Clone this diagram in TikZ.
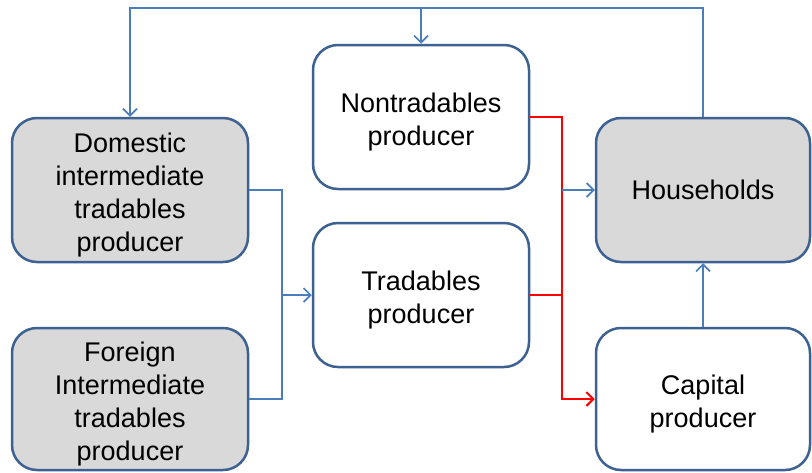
\documentclass[tikz,border=0pt]{standalone}
\usepackage{fontspec}
\setmainfont{Liberation Sans}
\usetikzlibrary{arrows.meta}
\definecolor{boxblue}{HTML}{3D6191}
\definecolor{lineblue}{HTML}{4A7EBB}
\definecolor{boxgray}{HTML}{D9D9D9}
% lines of a box, set a little low
\newcommand\boxlines[1]{\raisebox{-5pt}[\height][\depth]{\begin{tabular}{@{}c@{}}#1\end{tabular}}}
\begin{document}
\begin{tikzpicture}[x=1pt,y=-1pt]
        % Styles
        \tikzstyle{agent}=[draw=boxblue,line width=2.5pt,rounded corners=25pt,align=center,
            font=\fontsize{27}{33}\selectfont]
        \tikzstyle{home agent}=[agent,fill=boxgray,minimum width=236pt,minimum height=144pt]
        \tikzstyle{firm}=[agent,fill=white,minimum width=216pt,minimum height=144pt]
        \tikzstyle{flow}=[lineblue,line width=1.6pt,-{Straight Barb[length=7pt,width=14pt]}]
        \tikzstyle{goods}=[red,line width=2pt,-{Straight Barb[length=7pt,width=14pt]}]
        \useasboundingbox (0,0) rectangle (812,472);
        %The graphic
        %boxes
        \node[home agent] (dom) at (130,190) {\boxlines{Domestic\\intermediate\\tradables\\producer}};
        \node[home agent,minimum height=142pt] (for) at (130,399) {\boxlines{Foreign\\Intermediate\\tradables\\producer}};
        \node[firm] (non) at (421,117) {\boxlines{Nontradables\\producer}};
        \node[firm] (tra) at (421,295) {\boxlines{Tradables\\producer}};
        \node[firm,fill=boxgray,minimum width=214pt] (hou) at (703,190) {Households};
        \node[firm,minimum width=214pt,minimum height=142pt] (cap) at (703,399) {\boxlines{Capital\\producer}};
        %junctions
        \coordinate (top) at (0,8);
        \coordinate (jl) at (282,295);
        \coordinate (jr) at (562,190);
        %flows
        \draw[flow] (hou.north) -- (hou.north |- top) -| (dom.north);
        \draw[flow] (non.north |- top) -- (non.north);
        \draw[flow,-] (dom.east) -| (jl);
        \draw[flow,-] (for.east) -| (jl);
        \draw[flow] (jl) -- (tra.west);
        \draw[goods,-] (tra.east) -- (jr |- tra.east);
        \draw[goods] (non.east) -| (jr |- cap.west) -- (cap.west);
        \draw[flow] (jr) -- (hou.west);
        \draw[flow] (cap.north) -- (hou.south);
    \end{tikzpicture}
\end{document}
